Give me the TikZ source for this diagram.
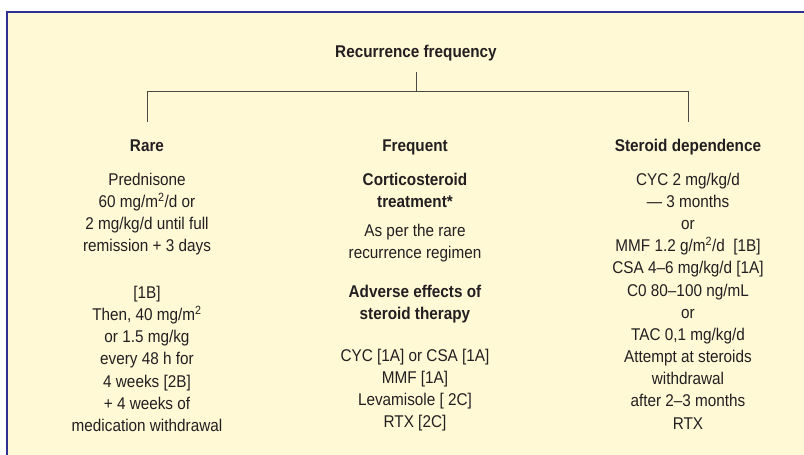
\documentclass[tikz,border=0pt]{standalone}
\usepackage{fontspec}
\setmainfont[FakeStretch=0.9]{Liberation Sans}
\definecolor{bgyellow}{HTML}{FFF9D6}
\definecolor{frameblue}{HTML}{2E3192}
\definecolor{inkc}{HTML}{231F20}
\definecolor{linec}{HTML}{4A4A44}
\newcommand{\txtsize}{\fontsize{17}{22.3}\selectfont}
\newcommand{\sq}{\textsuperscript{2}}
\newcommand{\blkt}[1]{\begin{tabular}[t]{@{}c@{}}#1\end{tabular}}
\tikzset{
  blk/.style={anchor=base, inner sep=0pt, text=inkc, font=\txtsize},
  hdr/.style={blk, font=\txtsize\bfseries},
  conn/.style={draw=linec, line width=1pt},
}
\begin{document}
\begin{tikzpicture}[x=1pt, y=-1pt]
\useasboundingbox (0,0) rectangle (804,455);
\clip (0,0) rectangle (804,455);
% panel
\fill[bgyellow] (7,12) rectangle (820,470);
\draw[frameblue, line width=2.6pt] (7,470) -- (7,12) -- (820,12);
% title
\node[hdr] (title) at (416,57) {Recurrence frequency};
% tree
\coordinate (stemtop) at (416,72);
\coordinate (junction) at (416,91);
\coordinate (cornerL) at (147,91);
\coordinate (cornerR) at (688,91);
\coordinate (dropL) at (147,122);
\coordinate (dropR) at (688,122);
\draw[conn] (stemtop) -- (junction);
\draw[conn] (dropL) -- (cornerL) -- (cornerR) -- (dropR);
% left column
\node[hdr] (rare) at (147,151) {Rare};
\node[blk] (rareA) at (147,185) {\blkt{Prednisone\\60 mg/m\sq/d or\\2 mg/kg/d until full\\remission + 3 days}};
\node[blk] (rareB) at (147,298) {\blkt{[1B]\\Then, 40 mg/m\sq\\or 1.5 mg/kg\\every 48 h for\\4 weeks [2B]\\+ 4 weeks of\\medication withdrawal}};
% middle column
\node[hdr] (freq) at (415,151) {Frequent};
\node[hdr] (freqA) at (415,185) {\blkt{Corticosteroid\\treatment*}};
\node[blk] (freqB) at (415,236) {\blkt{As per the rare\\recurrence regimen}};
\node[hdr] (freqC) at (415,297) {\blkt{Adverse effects of\\steroid therapy}};
\node[blk] (freqD) at (415,361) {\blkt{CYC [1A] or CSA [1A]\\MMF [1A]\\Levamisole [ 2C]\\RTX [2C]}};
% right column
\node[hdr] (dep) at (688,151) {Steroid dependence};
\node[blk] (depA) at (688,185) {\fontsize{17}{22.2}\selectfont\blkt{CYC 2 mg/kg/d\\--- 3 months\\or\\MMF 1.2 g/m\sq/d\ \ [1B]\\CSA 4--6 mg/kg/d [1A]\\C0 80--100 ng/mL\\or\\TAC 0,1 mg/kg/d\\Attempt at steroids\\withdrawal\\after 2--3 months\\RTX}};
\end{tikzpicture}
\end{document}
